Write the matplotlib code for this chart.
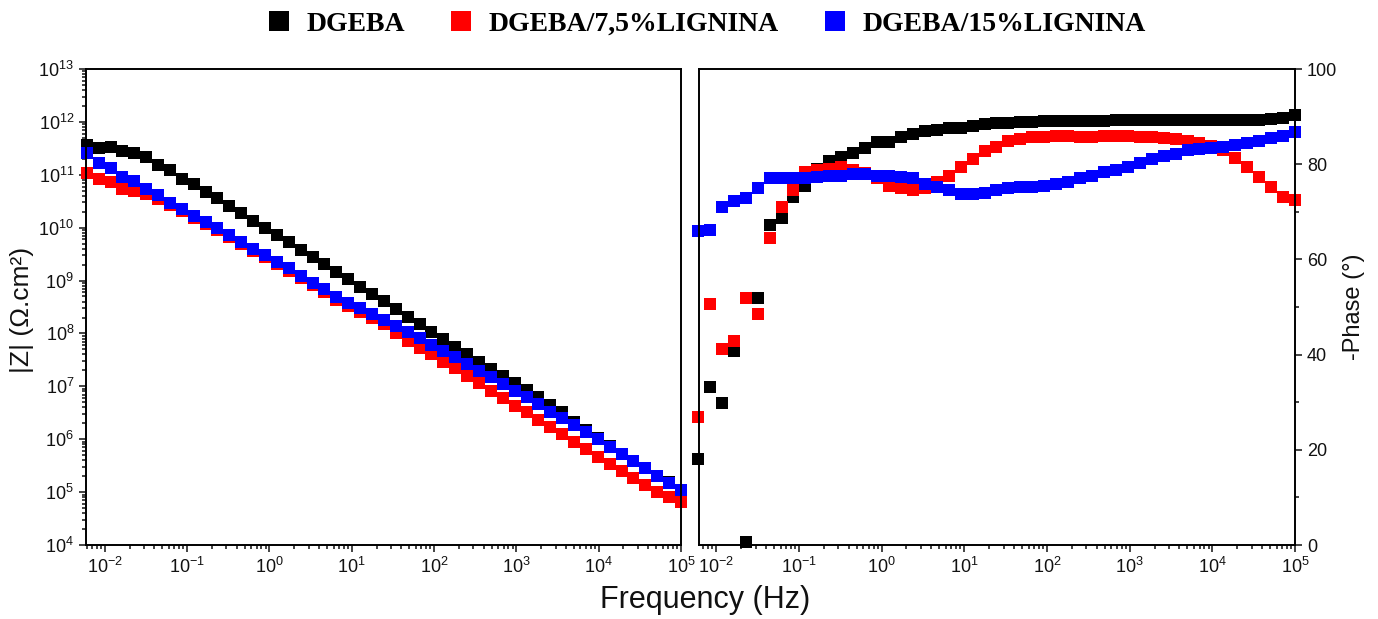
import matplotlib
matplotlib.use("Agg")
import matplotlib.pyplot as plt
from matplotlib.lines import Line2D
from matplotlib.ticker import LogLocator, FixedLocator, MultipleLocator, NullFormatter

plt.rcParams['font.family'] = ['Liberation Sans', 'DejaVu Sans']
plt.rcParams['mathtext.fontset'] = 'custom'
plt.rcParams['mathtext.rm'] = 'Liberation Sans'
plt.rcParams['mathtext.it'] = 'Liberation Sans:italic'
plt.rcParams['mathtext.bf'] = 'Liberation Sans:bold'

# Frequency grid (Hz), low -> high, ~7 points per decade
freq = [0.00603, 0.00840, 0.01172, 0.01634, 0.02278, 0.03177, 0.04430, 0.06176,
        0.08612, 0.1201, 0.1675, 0.2335, 0.3256, 0.4541, 0.6331, 0.8831,
        1.231, 1.717, 2.394, 3.339, 4.656, 6.493, 9.054, 12.62, 17.61,
        24.55, 34.23, 47.74, 66.57, 92.82, 129.4, 180.5, 251.7, 351.0, 489.4,
        682.3, 951.5, 1327, 1850, 2580, 3597, 5016, 6995, 9754, 13600,
        18970, 26450, 36880, 51430, 71720, 100000]

# |Z| (Ohm.cm2)
z_dgeba = [3.66e11, 3.17e11, 3.31e11, 2.86e11, 2.55e11, 2.14e11, 1.51e11, 1.23e11,
           8.43e10, 6.61e10, 4.80e10, 3.60e10, 2.61e10, 1.87e10, 1.36e10, 1.00e10,
           7.28e9, 5.30e9, 3.78e9, 2.83e9, 2.06e9, 1.47e9, 1.07e9, 7.67e8, 5.58e8,
           4.03e8, 2.92e8, 2.08e8, 1.51e8, 1.08e8, 7.76e7, 5.48e7, 4.05e7, 2.89e7, 2.13e7,
           1.57e7, 1.14e7, 8.55e6, 6.22e6, 4.45e6, 3.24e6, 2.14e6, 1.48e6, 1.04e6, 7.33e5,
           5.33e5, 3.93e5, 2.85e5, 2.04e5, 1.52e5, 1.11e5]
z_lig75 = [1.07e11, 8.22e10, 7.41e10, 5.38e10, 5.01e10, 4.27e10, 3.55e10, 2.69e10,
           2.04e10, 1.55e10, 1.17e10, 8.91e9, 6.61e9, 4.90e9, 3.63e9, 2.75e9,
           2.04e9, 1.51e9, 1.10e9, 8.13e8, 6.03e8, 4.37e8, 3.31e8, 2.57e8, 1.95e8,
           1.51e8, 1.04e8, 7.31e7, 5.40e7, 4.09e7, 2.93e7, 2.20e7, 1.57e7, 1.17e7, 8.30e6,
           5.96e6, 4.33e6, 3.24e6, 2.32e6, 1.69e6, 1.26e6, 8.77e5, 6.56e5, 4.69e5, 3.41e5,
           2.55e5, 1.83e5, 1.37e5, 1.02e5, 8.02e4, 6.61e4]
z_lig15 = [2.55e11, 1.65e11, 1.36e11, 9.20e10, 7.64e10, 5.32e10, 4.15e10, 2.89e10,
           2.23e10, 1.69e10, 1.26e10, 9.75e9, 7.28e9, 5.45e9, 3.95e9, 3.05e9,
           2.28e9, 1.71e9, 1.22e9, 9.12e8, 6.84e8, 4.97e8, 3.82e8, 2.99e8, 2.32e8,
           1.80e8, 1.39e8, 1.08e8, 8.11e7, 6.07e7, 4.67e7, 3.55e7, 2.65e7, 1.98e7, 1.49e7,
           1.10e7, 8.18e6, 6.22e6, 4.59e6, 3.33e6, 2.51e6, 1.86e6, 1.39e6, 1.00e6, 7.24e5,
           5.27e5, 3.89e5, 2.83e5, 2.02e5, 1.51e5, 1.10e5]

# -Phase (degrees)
ph_dgeba = [18.0, 33.1, 29.9, 40.8, 0.7, 51.9, 67.3, 68.6, 73.1, 75.4, 79.0, 80.7,
            81.5, 82.4, 83.3, 84.7, 84.7, 85.8, 86.3, 86.9, 87.1, 87.6, 87.6, 88.0,
            88.4, 88.6, 88.6, 88.8, 88.8, 89.0, 89.1, 89.1, 89.1, 89.1, 89.1, 89.3,
            89.3, 89.3, 89.3, 89.3, 89.3, 89.3, 89.3, 89.3, 89.3, 89.3, 89.3, 89.3,
            89.5, 89.8, 90.4]
ph_lig75 = [26.8, 50.6, 41.1, 42.8, 51.9, 48.6, 64.5, 71.0, 74.5, 78.3, 78.7, 78.9,
            79.4, 78.8, 78.2, 77.0, 75.5, 75.0, 74.6, 75.1, 76.2, 77.6, 79.4, 81.1,
            82.7, 83.7, 84.8, 85.3, 85.7, 85.7, 85.9, 85.9, 85.7, 85.7, 85.9, 85.9,
            85.9, 85.7, 85.7, 85.5, 85.2, 84.8, 84.5, 83.9, 82.9, 81.3, 79.4, 77.3,
            75.2, 73.2, 72.5]
ph_lig15 = [65.9, 66.2, 71.1, 72.2, 72.8, 74.9, 77.0, 77.0, 77.0, 77.0, 77.4, 77.6,
            77.6, 77.9, 77.9, 77.6, 77.5, 77.3, 77.0, 75.9, 75.3, 74.5, 73.8, 73.8,
            73.9, 74.6, 75.1, 75.2, 75.3, 75.5, 75.9, 76.2, 77.1, 77.6, 78.3, 78.8,
            79.5, 80.3, 81.0, 81.7, 82.2, 82.9, 83.2, 83.5, 83.6, 84.1, 84.5, 84.9,
            85.4, 86.0, 86.7]

labels = ["DGEBA", "DGEBA/7,5%LIGNINA", "DGEBA/15%LIGNINA"]
colors = ["#000000", "#ff0000", "#0000ff"]
x_decades = [1e-2, 1e-1, 1e0, 1e1, 1e2, 1e3, 1e4, 1e5]
z_decades = [1e4, 1e5, 1e6, 1e7, 1e8, 1e9, 1e10, 1e11, 1e12, 1e13]

W, H = 1378, 619
fig = plt.figure(figsize=(W / 100, H / 100), dpi=100)

ax_z = fig.add_axes([86 / W, 1 - 545 / H, 595 / W, 476 / H])
ax_p = fig.add_axes([699 / W, 1 - 545 / H, 596 / W, 476 / H])

ms = 8.5
for z, c in zip([z_dgeba, z_lig75, z_lig15], colors):
    ax_z.plot(freq, z, 's', color=c, ms=ms, mew=0, clip_on=False)
for p, c in zip([ph_dgeba, ph_lig75, ph_lig15], colors):
    ax_p.plot(freq, p, 's', color=c, ms=ms, mew=0, clip_on=False)

# |Z| panel
ax_z.set_xscale('log')
ax_z.set_yscale('log')
ax_z.set_xlim(0.0059, 1e5)
ax_z.set_ylim(1e4, 1e13)
ax_z.xaxis.set_major_locator(FixedLocator(x_decades))
ax_z.xaxis.set_minor_locator(LogLocator(base=10, subs=range(2, 10), numticks=20))
ax_z.xaxis.set_minor_formatter(NullFormatter())
ax_z.yaxis.set_major_locator(FixedLocator(z_decades))
ax_z.yaxis.set_minor_locator(LogLocator(base=10, subs=range(2, 10), numticks=20))
ax_z.yaxis.set_minor_formatter(NullFormatter())
ax_z.tick_params(which='both', direction='out', top=False, right=False,
                 labelsize=13, width=1.1, colors='#111111')
ax_z.tick_params(which='major', length=5)
ax_z.tick_params(which='minor', length=3)

# Phase panel
ax_p.set_xscale('log')
ax_p.set_xlim(0.0062, 1e5)
ax_p.set_ylim(0, 100)
ax_p.xaxis.set_major_locator(FixedLocator(x_decades))
ax_p.xaxis.set_minor_locator(LogLocator(base=10, subs=range(2, 10), numticks=20))
ax_p.xaxis.set_minor_formatter(NullFormatter())
ax_p.yaxis.set_major_locator(MultipleLocator(20))
ax_p.yaxis.set_minor_locator(MultipleLocator(10))
ax_p.yaxis.tick_right()
ax_p.tick_params(which='both', direction='out', top=False, left=False,
                 labelsize=13, width=1.1, colors='#111111')
ax_p.tick_params(which='major', length=5)
ax_p.tick_params(which='minor', length=3)

for ax in (ax_z, ax_p):
    for s in ax.spines.values():
        s.set_linewidth(1.4)

fig.text(22 / W, 1 - 310 / H, "|Z| (Ω.cm²)", rotation=90, ha='center', va='center',
         fontsize=19, color='#111111')
fig.text(1354 / W, 1 - 307 / H, "-Phase (°)", rotation=90, ha='center', va='center',
         fontsize=17, color='#111111')
fig.text(705 / W, 1 - 600 / H, "Frequency (Hz)", ha='center', va='center',
         fontsize=22, color='#111111')

handles = [Line2D([], [], ls='none', marker='s', ms=15, mew=0, color=c) for c in colors]
fig.legend(handles, labels, loc='center', bbox_to_anchor=(707 / W, 1 - 24 / H),
           ncol=3, frameon=False, handlelength=0.8, handletextpad=0.6,
           columnspacing=1.6, prop={'family': 'Liberation Serif', 'weight': 'bold', 'size': 20})

fig.savefig("out.png", dpi=100)
